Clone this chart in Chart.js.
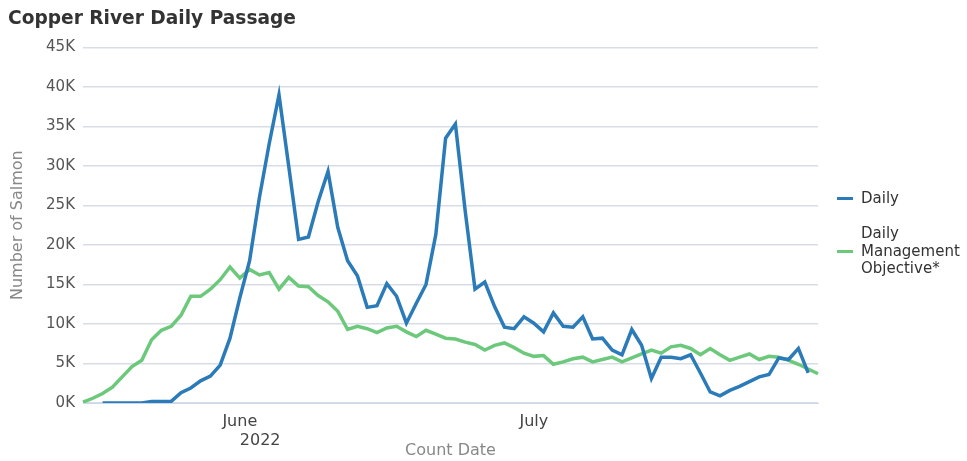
<!DOCTYPE html>
<html>
<head>
<meta charset="utf-8">
<title>Copper River Daily Passage</title>
<script src="https://cdn.jsdelivr.net/npm/chart.js@4.4.0/dist/chart.umd.min.js"></script>
<style>
    body { margin: 0; background: #fff; font-family: 'DejaVu Sans', sans-serif; }
    #wrap { position: relative; width: 967px; height: 461px; }
    .legend-item { position: absolute; left: 837px; display: flex; align-items: center; font-size: 15px; color: #333; }
    .swatch { width: 16px; height: 3px; margin-right: 8px; flex: none; }
</style>
</head>
<body>
<div id="wrap">
    <canvas id="myChart" width="967" height="461"></canvas>
    <div class="legend-item" style="top:189px; line-height:18px;">
        <span class="swatch" style="background:#2b7bb9"></span><span>Daily</span>
    </div>
    <div class="legend-item" style="top:225px; line-height:17.5px;">
        <span class="swatch" style="background:#6cc97c"></span><span>Daily<br>Management<br>Objective*</span>
    </div>
</div>
<script>
const countDates = [
    '2022-05-16', '2022-05-17', '2022-05-18', '2022-05-19', '2022-05-20', '2022-05-21', '2022-05-22', '2022-05-23',
    '2022-05-24', '2022-05-25', '2022-05-26', '2022-05-27', '2022-05-28', '2022-05-29', '2022-05-30', '2022-05-31',
    '2022-06-01', '2022-06-02', '2022-06-03', '2022-06-04', '2022-06-05', '2022-06-06', '2022-06-07', '2022-06-08',
    '2022-06-09', '2022-06-10', '2022-06-11', '2022-06-12', '2022-06-13', '2022-06-14', '2022-06-15', '2022-06-16',
    '2022-06-17', '2022-06-18', '2022-06-19', '2022-06-20', '2022-06-21', '2022-06-22', '2022-06-23', '2022-06-24',
    '2022-06-25', '2022-06-26', '2022-06-27', '2022-06-28', '2022-06-29', '2022-06-30',
    '2022-07-01', '2022-07-02', '2022-07-03', '2022-07-04', '2022-07-05', '2022-07-06', '2022-07-07', '2022-07-08',
    '2022-07-09', '2022-07-10', '2022-07-11', '2022-07-12', '2022-07-13', '2022-07-14', '2022-07-15', '2022-07-16',
    '2022-07-17', '2022-07-18', '2022-07-19', '2022-07-20', '2022-07-21', '2022-07-22', '2022-07-23', '2022-07-24',
    '2022-07-25', '2022-07-26', '2022-07-27', '2022-07-28', '2022-07-29', '2022-07-30'
];

const dailyPassage = [
    null, null, 0, 0, 0, 0, 0, 200, 200, 200, 1300, 1900, 2800, 3400, 4800, 8200,
    13300, 18000, 26000, 32800, 39000, 29900, 20700, 21000, 25500, 29300, 22200, 18000, 16100, 12100,
    12300, 15100, 13500, 10100, 12600, 15000, 21300, 33500, 35300, 24300, 14400, 15300, 12200, 9600,
    9400, 10900, 10100, 9000, 11400, 9700, 9600, 10900, 8100, 8200, 6700, 6100, 9300, 7300,
    3100, 5800, 5800, 5600, 6100, 3800, 1400, 900, 1600, 2100, 2700, 3300, 3600, 5700,
    5500, 6900, 3800, null
];

const managementObjective = [
    100, 600, 1200, 2000, 3300, 4600, 5400, 8000, 9200, 9700, 11100, 13500, 13500, 14400, 15600, 17200,
    15800, 16900, 16200, 16500, 14400, 15900, 14800, 14700, 13600, 12800, 11600, 9300, 9700, 9400,
    8900, 9500, 9700, 9000, 8400, 9200, 8700, 8200, 8100, 7700, 7400, 6700, 7300, 7600,
    7000, 6300, 5900, 6000, 4900, 5200, 5600, 5800, 5200, 5500, 5800, 5200, 5700, 6200,
    6700, 6300, 7100, 7300, 6900, 6100, 6900, 6100, 5400, 5800, 6200, 5500, 5900, 5800,
    5400, 4900, 4300, 3700
];

// x axis only shows month starts
const monthTickDates = ['2022-06-01', '2022-07-01'];
const monthTickLabels = [['June', '        2022'], ['July']];

const ctx = document.getElementById('myChart').getContext('2d');

new Chart(ctx, {
    type: 'line',
    data: {
        labels: countDates,
        datasets: [{
            label: 'Daily',
            data: dailyPassage,
            borderColor: '#2b7bb9',
            backgroundColor: '#2b7bb9',
            borderWidth: 3.5,
            pointRadius: 0,
            tension: 0,
            order: 1
        }, {
            label: 'Daily Management Objective*',
            data: managementObjective,
            borderColor: '#6cc97c',
            backgroundColor: '#6cc97c',
            borderWidth: 3.5,
            pointRadius: 0,
            tension: 0,
            order: 2
        }]
    },
    options: {
        responsive: false,
        animation: false,
        layout: {
            padding: { left: 8, right: 149, top: 4, bottom: 0 }
        },
        plugins: {
            legend: { display: false },
            tooltip: { enabled: false },
            title: {
                display: true,
                text: 'Copper River Daily Passage',
                align: 'start',
                color: '#333',
                font: { family: 'DejaVu Sans', size: 18.6, weight: 'bold' },
                padding: { top: 4, bottom: 17 }
            }
        },
        scales: {
            x: {
                type: 'category',
                offset: false,
                grid: { display: false },
                border: { display: true, color: '#ccd6eb', width: 1 },
                afterBuildTicks: (scale) => {
                    scale.ticks = scale.ticks.filter(t => monthTickDates.includes(countDates[t.value]));
                },
                afterFit: (scale) => { scale.height = 58; },
                ticks: {
                    autoSkip: false,
                    maxRotation: 0,
                    padding: 1,
                    color: '#444',
                    font: { family: 'DejaVu Sans', size: 16, lineHeight: 1.2 },
                    callback: function (value) {
                        const i = monthTickDates.indexOf(countDates[value]);
                        return i >= 0 ? monthTickLabels[i] : '';
                    }
                },
                title: {
                    display: true,
                    text: 'Count Date',
                    color: '#888',
                    font: { family: 'DejaVu Sans', size: 16 },
                    padding: { top: 0, bottom: 0.5 }
                }
            },
            y: {
                min: 0,
                max: 45000,
                grid: { color: '#d8dde5', lineWidth: 1.5, drawTicks: false },
                border: { display: false },
                afterFit: (scale) => { scale.width = 75; },
                ticks: {
                    stepSize: 5000,
                    padding: 8,
                    color: '#555',
                    font: { family: 'DejaVu Sans', size: 15 },
                    callback: (v) => (v / 1000) + 'K'
                },
                title: {
                    display: true,
                    text: 'Number of Salmon',
                    color: '#888',
                    font: { family: 'DejaVu Sans', size: 16 },
                    padding: { top: 0, bottom: 0 }
                }
            }
        }
    }
});
</script>
</body>
</html>
